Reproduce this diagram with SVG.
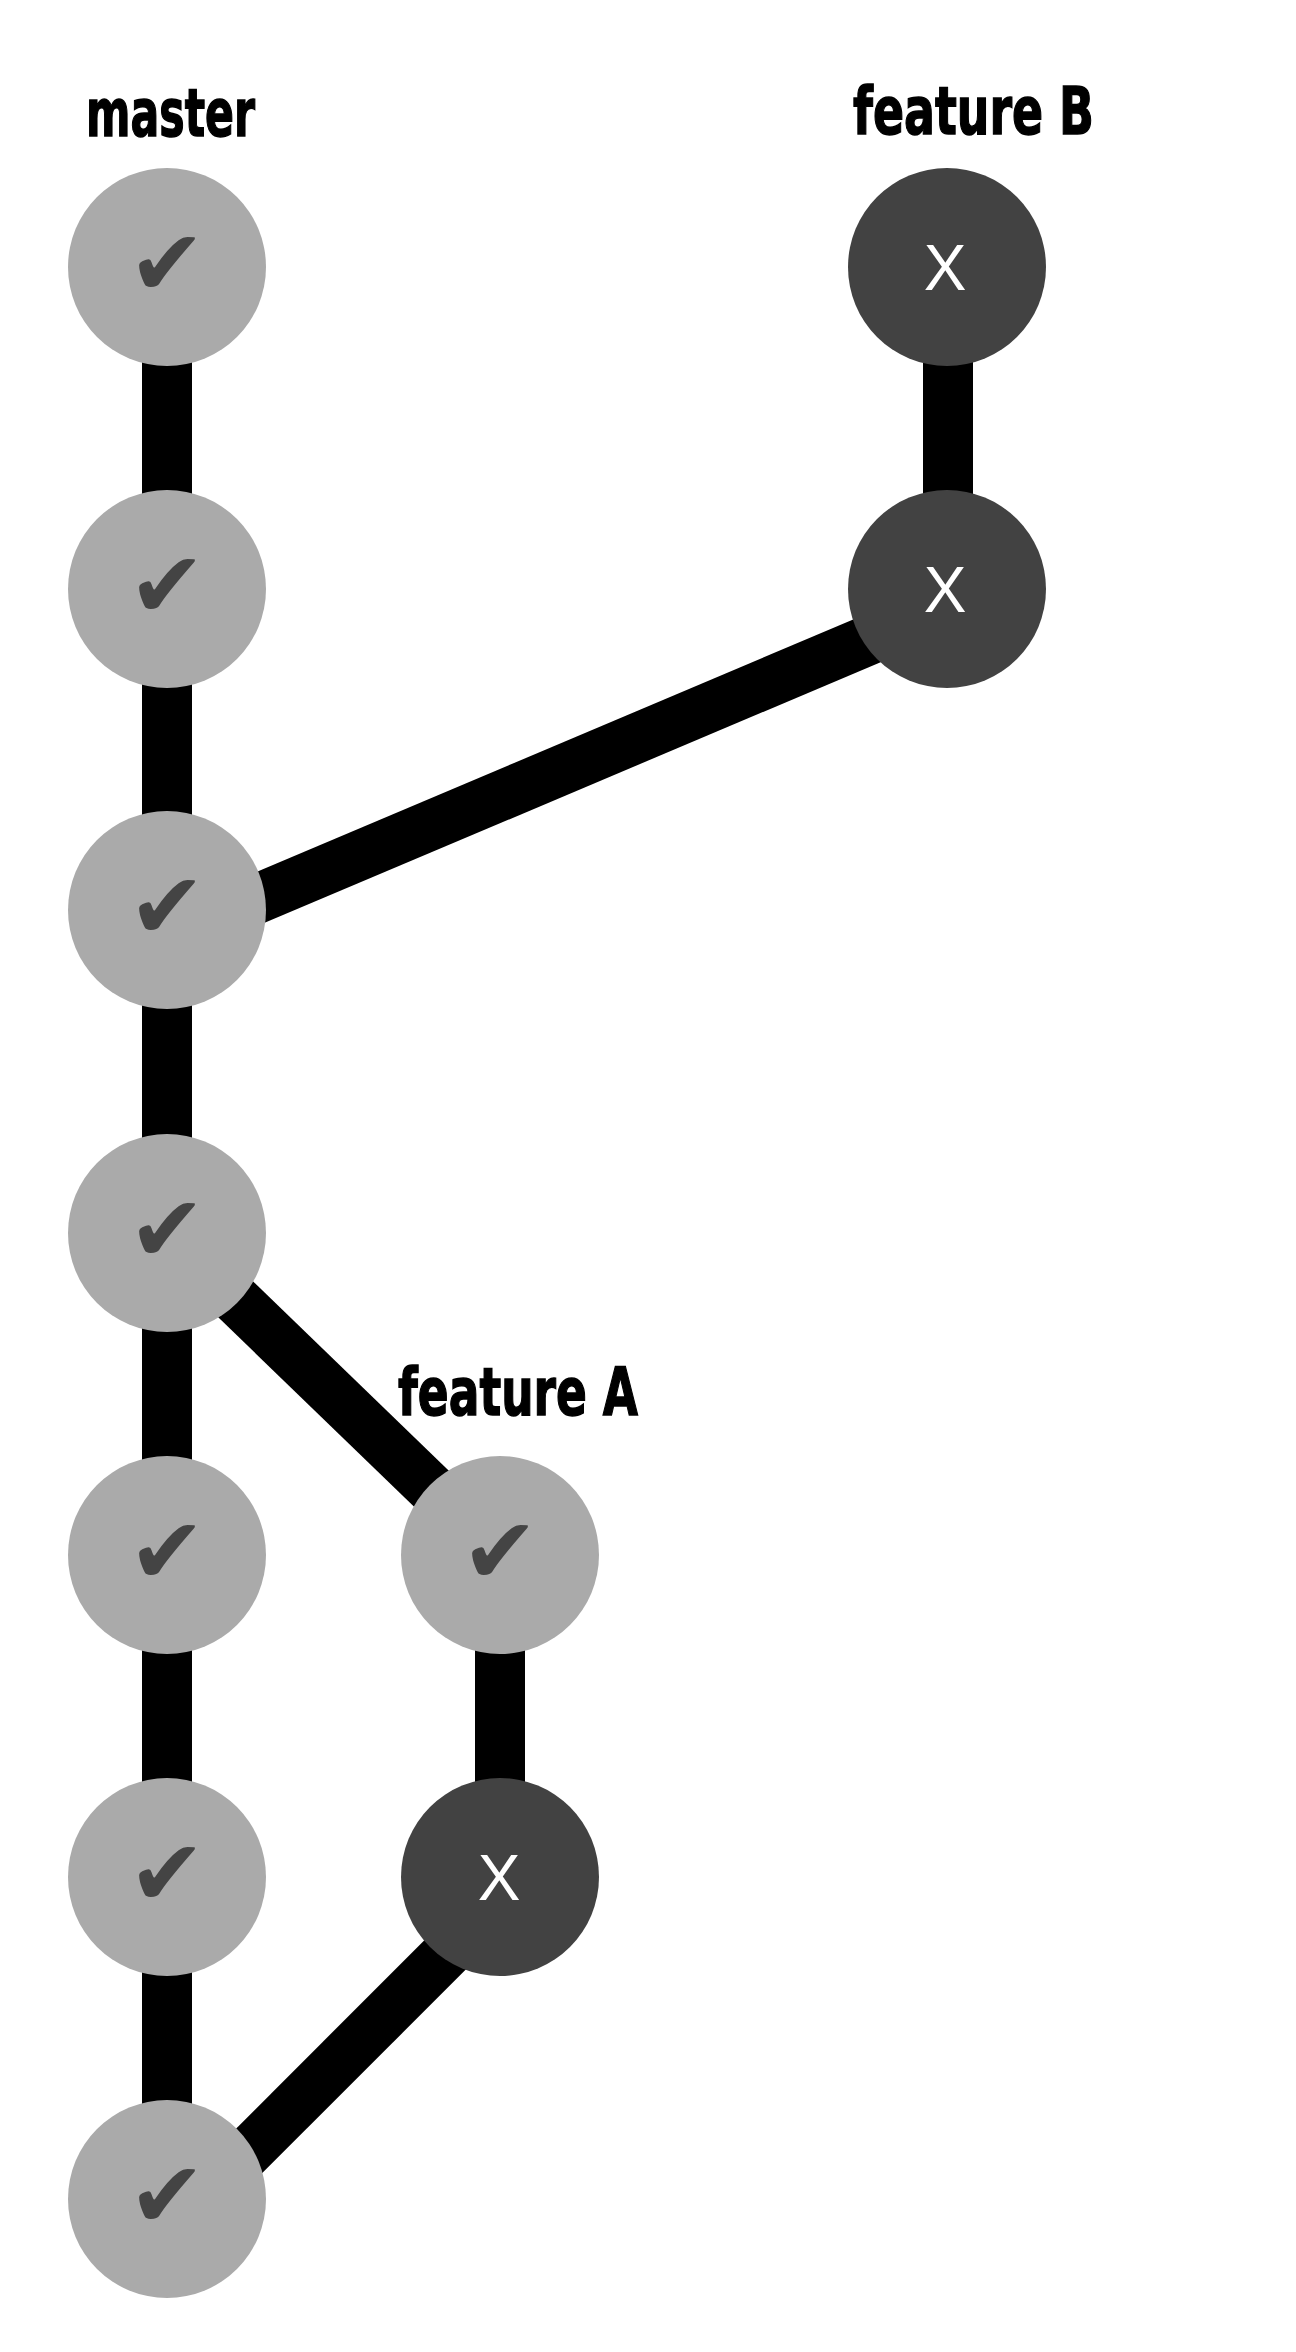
<svg xmlns="http://www.w3.org/2000/svg" width="1296" height="2352" viewBox="0 0 1296 2352">
<style>
.ok{fill:#aaaaaa}
.bad{fill:#424242}
.edge{stroke:#000;stroke-width:50;fill:none}
.lbl{font-family:"DejaVu Sans","Liberation Sans",sans-serif;font-weight:bold;font-size:66px;fill:#000;stroke:#000;stroke-width:1.5}
.chk{font-family:"DejaVu Sans",sans-serif;font-size:92px;fill:#444444;text-anchor:middle}
.x{font-family:"Liberation Sans",Arial,sans-serif;font-size:64px;fill:#ffffff;text-anchor:middle}
</style>
<rect width="1296" height="2352" fill="#ffffff"/>
<g id="connectors">
<line class="edge" x1="167" y1="267" x2="167" y2="2199"/>
<line class="edge" x1="948" y1="267" x2="948" y2="589"/>
<line class="edge" x1="500" y1="1555" x2="500" y2="1877"/>
<line class="edge" x1="167" y1="937" x2="947" y2="607"/>
<line class="edge" x1="167" y1="1233" x2="500" y2="1555"/>
<line class="edge" x1="500" y1="1900" x2="167" y2="2233"/>
</g>
<g id="labels">
<text id="label-master" class="lbl" x="86" y="136" textLength="169" lengthAdjust="spacingAndGlyphs">master</text>
<text id="label-featureB" class="lbl" x="853" y="134" textLength="241" lengthAdjust="spacingAndGlyphs">feature B</text>
<text id="label-featureA" class="lbl" x="398" y="1415" textLength="240" lengthAdjust="spacingAndGlyphs">feature A</text>
</g>
<g id="m1"><circle class="ok" cx="167" cy="267" r="99"/><text class="chk" x="167" y="295">✔</text></g>
<g id="m2"><circle class="ok" cx="167" cy="589" r="99"/><text class="chk" x="167" y="617">✔</text></g>
<g id="m3"><circle class="ok" cx="167" cy="910" r="99"/><text class="chk" x="167" y="938">✔</text></g>
<g id="m4"><circle class="ok" cx="167" cy="1233" r="99"/><text class="chk" x="167" y="1261">✔</text></g>
<g id="m5"><circle class="ok" cx="167" cy="1555" r="99"/><text class="chk" x="167" y="1583">✔</text></g>
<g id="m6"><circle class="ok" cx="167" cy="1877" r="99"/><text class="chk" x="167" y="1905">✔</text></g>
<g id="m7"><circle class="ok" cx="167" cy="2199" r="99"/><text class="chk" x="167" y="2227">✔</text></g>
<g id="a1"><circle class="ok" cx="500" cy="1555" r="99"/><text class="chk" x="500" y="1583">✔</text></g>
<g id="a2"><circle class="bad" cx="500" cy="1877" r="99"/><text class="x" x="499" y="1900">X</text></g>
<g id="b1"><circle class="bad" cx="947" cy="267" r="99"/><text class="x" x="945" y="290">X</text></g>
<g id="b2"><circle class="bad" cx="947" cy="589" r="99"/><text class="x" x="945" y="612">X</text></g>
</svg>
